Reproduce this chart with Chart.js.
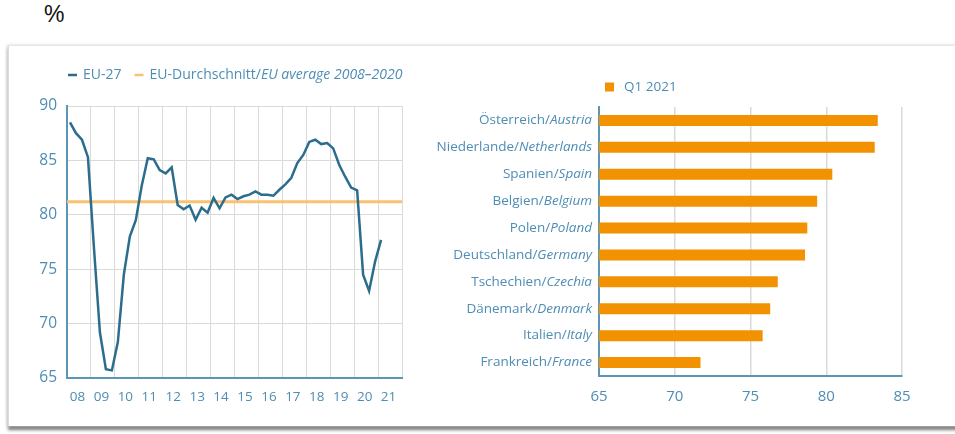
<!DOCTYPE html>
<html><head><meta charset="utf-8">
<script src="https://cdn.jsdelivr.net/npm/chart.js@4.4.1/dist/chart.umd.min.js"></script>
<style>
html,body{margin:0;padding:0;background:#fff;width:955px;height:434px;overflow:hidden;font-family:'Open Sans',sans-serif}
#pct{position:absolute;left:44px;top:1px;font:23px 'Liberation Sans',Arial,sans-serif;color:#111}
#panel{position:absolute;left:8px;top:45px;width:980px;height:380px;border-top:1px solid #e6e6e6;border-left:1px solid #dcdcdc;box-shadow:-1px 0 3px #d6d6d6,0 4px 3px #7a7a7a;background:#fff}
#c1{position:absolute;left:8px;top:46px;width:410px;height:380px}
#c2{position:absolute;left:420px;top:46px;width:535px;height:380px}
</style></head><body>
<div id="pct">%</div>
<div id="panel"></div>
<canvas id="c1" width="410" height="380"></canvas>
<canvas id="c2" width="535" height="380"></canvas>
<script>
// ---- data ----
const startYear = 2008;
const yearTicks = ['08','09','10','11','12','13','14','15','16','17','18','19','20','21'];
const euLabel = 'EU-27';
const euValues = [
  88.5, 87.5, 86.9, 85.3,
  77.0, 69.2, 65.8, 65.7,
  68.3, 74.5, 78.0, 79.5,
  82.7, 85.2, 85.1, 84.1,
  83.8, 84.35, 80.9, 80.5,
  80.85, 79.55, 80.65, 80.2,
  81.55, 80.6, 81.6, 81.85,
  81.45, 81.7, 81.85, 82.15,
  81.85, 81.85, 81.75, 82.3,
  82.8, 83.4, 84.75, 85.5,
  86.7, 86.9, 86.5, 86.6,
  86.1, 84.6, 83.5, 82.5,
  82.25, 74.5, 73.0, 75.7,
  77.7
];
const avgLabel = 'EU-Durchschnitt/EU average 2008–2020';
const avgValue = 81.2;
const avgSpan = [2008, 2022];
const lineYTicks = [65, 70, 75, 80, 85, 90];

const barLabel = 'Q1 2021';
const countries = ['Österreich/Austria','Niederlande/Netherlands','Spanien/Spain','Belgien/Belgium','Polen/Poland','Deutschland/Germany','Tschechien/Czechia','Dänemark/Denmark','Italien/Italy','Frankreich/France'];
const q1Values = [83.4, 83.2, 80.4, 79.4, 78.75, 78.6, 76.8, 76.3, 75.8, 71.7];
const barXTicks = [65, 70, 75, 80, 85];

// ---- styles ----
const BLUE_TXT = '#4e8db4';
const AXIS = '#5b96b8';
const GRID = '#dadada';
const LINE = '#2c6d8d';
const AVG = '#fbc172';
const BAR = '#f39200';
const FONT = "'Open Sans', sans-serif";

function drawMixed(ctx, label, x, y, align, size) {
  const k = label.indexOf('/');
  const a = k >= 0 ? label.slice(0, k + 1) : label;
  const b = k >= 0 ? label.slice(k + 1) : '';
  ctx.font = size + 'px ' + FONT;
  const wa = ctx.measureText(a).width;
  ctx.font = 'italic ' + size + 'px ' + FONT;
  const wb = ctx.measureText(b).width;
  let sx = align === 'right' ? x - wa - wb : x;
  ctx.textAlign = 'left';
  ctx.textBaseline = 'middle';
  ctx.font = size + 'px ' + FONT;
  ctx.fillText(a, sx, y);
  ctx.font = 'italic ' + size + 'px ' + FONT;
  ctx.fillText(b, sx + wa, y);
  return wa + wb;
}

const lineLegend = {
  id: 'lineLegend',
  afterDraw(chart) {
    const ctx = chart.ctx;
    ctx.save();
    let x = chart.chartArea.left + 1;
    const y = 29;
    chart.data.datasets.forEach(ds => {
      ctx.strokeStyle = ds.borderColor;
      ctx.lineWidth = 2.5;
      ctx.beginPath(); ctx.moveTo(x, y); ctx.lineTo(x + 9, y); ctx.stroke();
      x += 15;
      ctx.fillStyle = BLUE_TXT;
      const w = drawMixed(ctx, ds.label, x, y, 'left', 14);
      x += w + 13;
    });
    ctx.restore();
  }
};

new Chart(document.getElementById('c1'), {
  type: 'line',
  data: {
    datasets: [
      {
        label: euLabel,
        data: euValues.map((v, i) => ({ x: startYear + Math.floor(i / 4) + ((i % 4) + 0.5) / 4, y: v })),
        borderColor: LINE, borderWidth: 2.5, pointRadius: 0, tension: 0, fill: false
      },
      {
        label: avgLabel,
        data: avgSpan.map(x => ({ x: x, y: avgValue })),
        borderColor: AVG, borderWidth: 3, pointRadius: 0, fill: false
      }
    ]
  },
  options: {
    responsive: false, animation: false,
    layout: { padding: { top: 60, right: 16, left: 0, bottom: 0 } },
    plugins: { legend: { display: false }, tooltip: { enabled: false } },
    scales: {
      x: {
        type: 'linear', min: startYear, max: startYear + yearTicks.length,
        afterFit(s) { s.height = 48; },
        ticks: {
          stepSize: 1, autoSkip: false, maxRotation: 0, padding: 11,
          labelOffset: 10.5, color: BLUE_TXT, font: { family: FONT, size: 13.5 },
          callback: v => yearTicks[v - startYear] ?? ''
        },
        grid: { color: GRID, drawTicks: false, lineWidth: 1 },
        border: { color: AXIS, width: 2 }
      },
      y: {
        min: lineYTicks[0], max: lineYTicks[lineYTicks.length - 1],
        afterFit(s) { s.width = 59; },
        afterBuildTicks(s) { s.ticks = lineYTicks.map(v => ({ value: v })); },
        ticks: { padding: 10, color: BLUE_TXT, font: { family: FONT, size: 15.5 } },
        grid: { color: GRID, drawTicks: false, lineWidth: 1 },
        border: { color: AXIS, width: 2 }
      }
    }
  },
  plugins: [lineLegend]
});

const barDecor = {
  id: 'barDecor',
  afterDraw(chart) {
    const ctx = chart.ctx;
    const ys = chart.scales.y;
    ctx.save();
    ctx.fillStyle = BLUE_TXT;
    chart.data.labels.forEach((lab, i) => {
      drawMixed(ctx, lab, ys.right - 7, ys.getPixelForValue(i), 'right', 13.5);
    });
    // legend
    const ds = chart.data.datasets[0];
    const lx = chart.chartArea.left + 6, ly = 41;
    ctx.fillStyle = ds.backgroundColor;
    ctx.fillRect(lx, ly - 4.5, 9, 9);
    ctx.fillStyle = BLUE_TXT;
    ctx.font = '13.5px ' + FONT;
    ctx.textAlign = 'left'; ctx.textBaseline = 'middle';
    ctx.fillText(ds.label, lx + 19, ly);
    ctx.restore();
  }
};

new Chart(document.getElementById('c2'), {
  type: 'bar',
  data: {
    labels: countries,
    datasets: [{ label: barLabel, data: q1Values, backgroundColor: BAR, borderWidth: 0,
      barPercentage: 0.8, categoryPercentage: 0.51 }]
  },
  options: {
    indexAxis: 'y', responsive: false, animation: false,
    layout: { padding: { top: 61, right: 53, left: 0, bottom: 0 } },
    plugins: { legend: { display: false }, tooltip: { enabled: false } },
    scales: {
      x: {
        min: barXTicks[0], max: barXTicks[barXTicks.length - 1],
        afterFit(s) { s.height = 50; },
        afterBuildTicks(s) { s.ticks = barXTicks.map(v => ({ value: v })); },
        ticks: { padding: 12, color: BLUE_TXT, font: { family: FONT, size: 15 } },
        grid: { color: GRID, drawTicks: false, lineWidth: 1.5 },
        border: { color: AXIS, width: 2 }
      },
      y: {
        afterFit(s) { s.width = 179; },
        ticks: { display: false },
        grid: { display: false },
        border: { color: AXIS, width: 2 }
      }
    }
  },
  plugins: [barDecor]
});
</script>
</body></html>
